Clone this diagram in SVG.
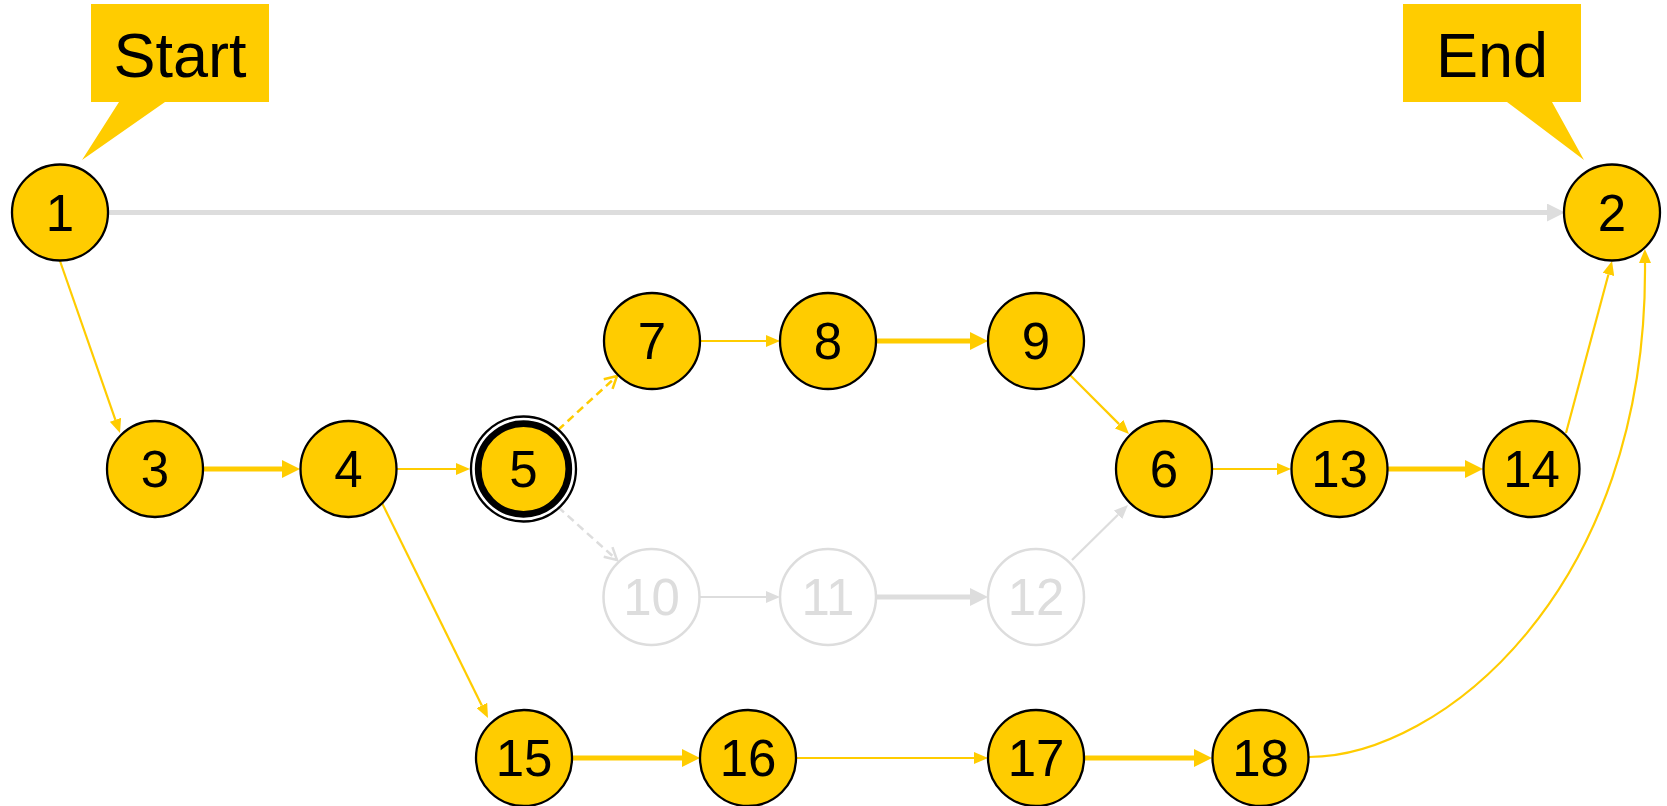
<svg xmlns="http://www.w3.org/2000/svg" width="1667" height="806" viewBox="0 0 1667 806">
<style>
.n circle{fill:#ffcc00;stroke:#000;stroke-width:2.3}
.g circle{fill:#fff;stroke:#dddddd;stroke-width:2.5}
.n text,.g text{font-family:"Liberation Sans",Arial,sans-serif;font-size:51px;text-anchor:middle}
.n text{fill:#000}
.g text{fill:#dddddd}
.lbl{font-family:"Liberation Sans",Arial,sans-serif;font-size:63px;text-anchor:middle;fill:#000}
.call{fill:#ffcc00}
.e{fill:none}
.yt{stroke:#ffcc00;stroke-width:2.2}
.yk{stroke:#ffcc00;stroke-width:5}
.gt{stroke:#dddddd;stroke-width:2.2}
.gk{stroke:#dddddd;stroke-width:5}
.dy{stroke:#ffcc00;stroke-width:2.5;stroke-dasharray:8 5}
.dg{stroke:#dddddd;stroke-width:2.5;stroke-dasharray:8 5}
</style>
<defs>
<marker id="ayt" markerUnits="userSpaceOnUse" markerWidth="14" markerHeight="12" refX="0" refY="6" orient="auto"><path d="M0,0 L14,6 L0,12 Z" fill="#ffcc00"/></marker>
<marker id="ayk" markerUnits="userSpaceOnUse" markerWidth="18" markerHeight="18" refX="0" refY="9" orient="auto"><path d="M0,0 L18,9 L0,18 Z" fill="#ffcc00"/></marker>
<marker id="agt" markerUnits="userSpaceOnUse" markerWidth="14" markerHeight="12" refX="0" refY="6" orient="auto"><path d="M0,0 L14,6 L0,12 Z" fill="#dddddd"/></marker>
<marker id="agk" markerUnits="userSpaceOnUse" markerWidth="18" markerHeight="18" refX="0" refY="9" orient="auto"><path d="M0,0 L18,9 L0,18 Z" fill="#dddddd"/></marker>
<marker id="aoy" markerUnits="userSpaceOnUse" markerWidth="16" markerHeight="16" refX="13" refY="8" orient="auto"><path d="M1,1.5 L13,8 L1,14.5" fill="none" stroke="#ffcc00" stroke-width="2.5"/></marker>
<marker id="aog" markerUnits="userSpaceOnUse" markerWidth="16" markerHeight="16" refX="13" refY="8" orient="auto"><path d="M1,1.5 L13,8 L1,14.5" fill="none" stroke="#dddddd" stroke-width="2.5"/></marker>
</defs>

<g id="callouts">
<path class="call" d="M91,4 H269 V102 H165 L82,160 L119,102 H91 Z"/>
<text class="lbl" x="180" y="77">Start</text>
<path class="call" d="M1403,4 H1581 V102 H1552 L1584,160 L1507,102 H1403 Z"/>
<text class="lbl" x="1492" y="77">End</text>
</g>

<g id="connectors">
<path class="e gk" d="M108,212.5 H1547" marker-end="url(#agk)"/>
<path class="e yt" d="M60,261 L115.4,419.8" marker-end="url(#ayt)"/>
<path class="e yk" d="M203,469 H282" marker-end="url(#ayk)"/>
<path class="e yt" d="M397,469 H456" marker-end="url(#ayt)"/>
<path class="e yt" d="M382,503 L481.8,705.4" marker-end="url(#ayt)"/>
<path class="e dy" d="M558,430 L617,376" marker-end="url(#aoy)"/>
<path class="e dg" d="M558,507 L617,560" marker-end="url(#aog)"/>
<path class="e yt" d="M700,341 H766" marker-end="url(#ayt)"/>
<path class="e yk" d="M876,341 H970" marker-end="url(#ayk)"/>
<path class="e yt" d="M1070,375 L1119.1,424.1" marker-end="url(#ayt)"/>
<path class="e gt" d="M700,597 H766" marker-end="url(#agt)"/>
<path class="e gk" d="M876,597 H970" marker-end="url(#agk)"/>
<path class="e gt" d="M1072,560 L1118,514.8" marker-end="url(#agt)"/>
<path class="e yt" d="M1212,469 H1277" marker-end="url(#ayt)"/>
<path class="e yk" d="M1387,469 H1465" marker-end="url(#ayk)"/>
<path class="e yt" d="M1566,433 L1608.4,274.5" marker-end="url(#ayt)"/>
<path class="e yk" d="M572,758 H682" marker-end="url(#ayk)"/>
<path class="e yt" d="M796,758 H974" marker-end="url(#ayt)"/>
<path class="e yk" d="M1084,758 H1194" marker-end="url(#ayk)"/>
<path class="e yt" d="M1309,757 C1440,757 1648,590 1645,263" marker-end="url(#ayt)"/>
</g>

<g id="node1" class="n"><circle cx="60" cy="212.5" r="48"/><text x="60" y="230.5">1</text></g>
<g id="node2" class="n"><circle cx="1612" cy="212.5" r="48"/><text x="1612" y="230.5">2</text></g>
<g id="node3" class="n"><circle cx="155" cy="469" r="48"/><text x="155" y="487">3</text></g>
<g id="node4" class="n"><circle cx="348.5" cy="469" r="48"/><text x="348.5" y="487">4</text></g>
<g id="node5" class="n"><circle cx="523.5" cy="469" r="52.5" style="fill:none;stroke-width:2.3"/><circle cx="523.5" cy="469" r="45.3" style="stroke-width:6.7"/><text x="523.5" y="487">5</text></g>
<g id="node6" class="n"><circle cx="1164" cy="469" r="48"/><text x="1164" y="487">6</text></g>
<g id="node7" class="n"><circle cx="652" cy="341" r="48"/><text x="652" y="359">7</text></g>
<g id="node8" class="n"><circle cx="828" cy="341" r="48"/><text x="828" y="359">8</text></g>
<g id="node9" class="n"><circle cx="1036" cy="341" r="48"/><text x="1036" y="359">9</text></g>
<g id="node10" class="g"><circle cx="651.5" cy="597" r="48"/><text x="651.5" y="615">10</text></g>
<g id="node11" class="g"><circle cx="828" cy="597" r="48"/><text x="828" y="615">11</text></g>
<g id="node12" class="g"><circle cx="1036" cy="597" r="48"/><text x="1036" y="615">12</text></g>
<g id="node13" class="n"><circle cx="1339.5" cy="469" r="48"/><text x="1339.5" y="487">13</text></g>
<g id="node14" class="n"><circle cx="1531.5" cy="469" r="48"/><text x="1531.5" y="487">14</text></g>
<g id="node15" class="n"><circle cx="524" cy="758" r="48"/><text x="524" y="776">15</text></g>
<g id="node16" class="n"><circle cx="748" cy="758" r="48"/><text x="748" y="776">16</text></g>
<g id="node17" class="n"><circle cx="1036" cy="758" r="48"/><text x="1036" y="776">17</text></g>
<g id="node18" class="n"><circle cx="1260.5" cy="758" r="48"/><text x="1260.5" y="776">18</text></g>
</svg>
